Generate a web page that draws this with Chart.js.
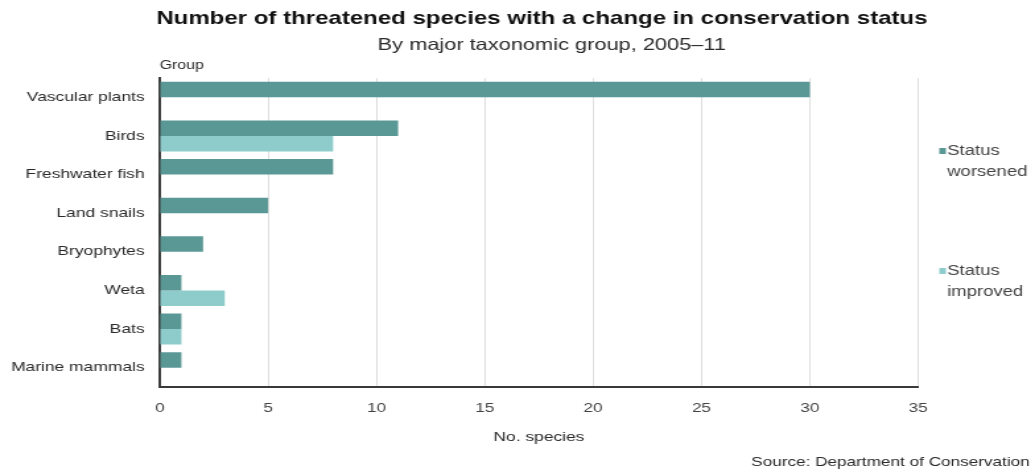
<!DOCTYPE html>
<html>
<head>
<meta charset="utf-8">
<title>Threatened species with a change in conservation status</title>
<script src="https://cdn.jsdelivr.net/npm/chart.js@4.4.1/dist/chart.umd.min.js"></script>
<style>
  html, body { margin: 0; padding: 0; background: #ffffff; overflow: hidden; }
  #chart { display: block; }
</style>
</head>
<body>
<!-- The chart is laid out on a narrower canvas and widened by its inline
     style, which gives the wide lettering of the printed figure. -->
<canvas id="chart" width="784" height="473" style="width:1035px;height:473px"></canvas>
<script>
// ---- data ----
const groups = [
  "Vascular plants", "Birds", "Freshwater fish", "Land snails",
  "Bryophytes", "Weta", "Bats", "Marine mammals"
];
const statusWorsened = [30, 11, 8, 5, 2, 1, 1, 1];
const statusImproved = [null, 8, null, null, null, 3, 1, null];
const seriesNames = ["Status worsened", "Status improved"];
const xMin = 0;
const xMax = 35;
const xStep = 5;

// ---- text ----
const titleText = "Number of threatened species with a change in conservation status";
const subtitleText = "By major taxonomic group, 2005\u201311";
const yAxisName = "Group";
const xAxisName = "No. species";
const sourceText = "Source: Department of Conservation";

// ---- styling ----
const FONT = "'Liberation Sans', Arial, Helvetica, sans-serif";
const DARK_TEAL = "#5a9896";
const LIGHT_TEAL = "#8dcccb";
const TEXT_DARK = "#2a2a2a";
const TEXT_GREY = "#444444";

// Canvas is 784 wide; each canvas pixel is drawn 1.32 px wide on screen.
const PLOT_LEFT = 121;
const PLOT_RIGHT = 695.5;
const PLOT_TOP = 78;
const PLOT_BOTTOM = 387;

const extraText = {
  id: "extraText",
  afterDraw(chart) {
    const ctx = chart.ctx;
    const area = chart.chartArea;
    ctx.save();
    ctx.textBaseline = "middle";

    // Title and subtitle
    ctx.fillStyle = "#111111";
    ctx.textAlign = "center";
    ctx.font = "bold 18.2px " + FONT;
    ctx.fillText(titleText, 410.5, 19);
    ctx.font = "16.5px " + FONT;
    ctx.fillStyle = TEXT_DARK;
    ctx.fillText(subtitleText, 418, 45);

    // Axis names
    ctx.font = "12px " + FONT;
    ctx.textAlign = "left";
    ctx.fillText(yAxisName, area.left, 66);
    ctx.textAlign = "center";
    ctx.font = "13.2px " + FONT;
    ctx.fillText(xAxisName, (area.left + area.right) / 2, 437);

    // Source note
    ctx.textAlign = "right";
    ctx.font = "13px " + FONT;
    ctx.fillText(sourceText, 780, 462);

    // Legend, stacked on the right
    const items = [
      { color: DARK_TEAL, lines: ["Status", "worsened"], y: 151 },
      { color: LIGHT_TEAL, lines: ["Status", "improved"], y: 271 }
    ];
    ctx.textAlign = "left";
    ctx.font = "14px " + FONT;
    items.forEach(it => {
      ctx.fillStyle = it.color;
      ctx.fillRect(711.5, it.y - 3, 5, 6);
      ctx.fillStyle = TEXT_GREY;
      it.lines.forEach((ln, i) => ctx.fillText(ln, 717.5, it.y + i * 21));
    });
    ctx.restore();
  }
};

new Chart(document.getElementById("chart"), {
  type: "bar",
  data: {
    labels: groups,
    datasets: [
      {
        label: seriesNames[0],
        data: statusWorsened,
        backgroundColor: DARK_TEAL,
        borderWidth: 0,
        categoryPercentage: 0.8,
        barPercentage: 1.0
      },
      {
        label: seriesNames[1],
        data: statusImproved,
        backgroundColor: LIGHT_TEAL,
        borderWidth: 0,
        categoryPercentage: 0.8,
        barPercentage: 1.0
      }
    ]
  },
  options: {
    indexAxis: "y",
    responsive: false,
    animation: false,
    devicePixelRatio: 1,
    layout: {
      padding: { top: PLOT_TOP, right: 784 - PLOT_RIGHT, bottom: 0, left: 0 }
    },
    plugins: {
      legend: { display: false },
      title: { display: false },
      tooltip: { enabled: false }
    },
    scales: {
      x: {
        type: "linear",
        position: "bottom",
        min: xMin,
        max: xMax,
        afterFit(scale) { scale.height = 473 - PLOT_BOTTOM; },
        ticks: {
          stepSize: xStep,
          padding: 14,
          color: TEXT_GREY,
          font: { family: FONT, size: 13 }
        },
        grid: {
          color: "#dddddd",
          lineWidth: 1,
          drawTicks: false
        },
        border: { display: true, color: "#3a3a3a", width: 2 }
      },
      y: {
        type: "category",
        position: "left",
        afterFit(scale) { scale.width = PLOT_LEFT; },
        ticks: {
          padding: 11.5,
          color: TEXT_DARK,
          font: { family: FONT, size: 13.2 }
        },
        grid: { display: false, drawTicks: false },
        border: { display: true, color: "#3a3a3a", width: 2 }
      }
    }
  },
  plugins: [extraText]
});
</script>
</body>
</html>
